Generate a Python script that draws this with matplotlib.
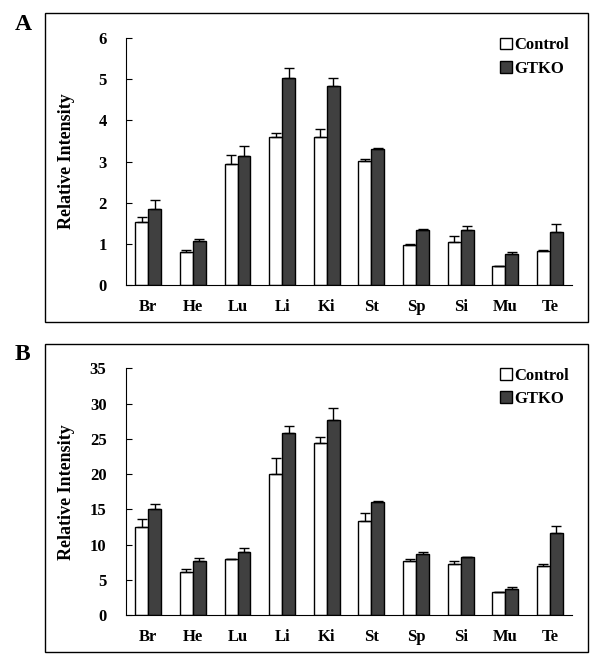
import matplotlib
matplotlib.use("Agg")
import matplotlib.pyplot as plt
import matplotlib.patches as patches
from matplotlib.patches import Patch
import numpy as np

plt.rcParams['font.family'] = ['Liberation Serif', 'DejaVu Serif']
plt.rcParams['font.weight'] = 'bold'

tissues = ['Br', 'He', 'Lu', 'Li', 'Ki', 'St', 'Sp', 'Si', 'Mu', 'Te']

# panel A
a_control = [1.53, 0.80, 2.94, 3.60, 3.60, 3.01, 0.97, 1.04, 0.45, 0.82]
a_control_err = [0.12, 0.05, 0.22, 0.09, 0.20, 0.05, 0.02, 0.14, 0.01, 0.02]
a_gtko = [1.84, 1.07, 3.13, 5.03, 4.83, 3.30, 1.34, 1.34, 0.75, 1.28]
a_gtko_err = [0.22, 0.05, 0.24, 0.24, 0.20, 0.02, 0.01, 0.09, 0.05, 0.20]

# panel B
b_control = [12.5, 6.05, 7.9, 19.96, 24.35, 13.4, 7.6, 7.2, 3.2, 6.9]
b_control_err = [1.1, 0.45, 0.1, 2.3, 0.85, 1.0, 0.3, 0.4, 0.0, 0.4]
b_gtko = [15.1, 7.66, 8.9, 25.8, 27.6, 16.1, 8.6, 8.2, 3.7, 11.6]
b_gtko_err = [0.7, 0.45, 0.55, 1.0, 1.7, 0.05, 0.3, 0.05, 0.25, 1.0]

fig = plt.figure(figsize=(5.91, 6.54), dpi=100)

# outer frames of both panels
for (x0, y0, x1, y1) in [(45, 13, 588, 322), (45, 344, 588, 652)]:
    fig.patches.append(patches.Rectangle(
        (x0 / 591, 1 - y1 / 654), (x1 - x0) / 591, (y1 - y0) / 654,
        transform=fig.transFigure, fill=False, edgecolor='black', linewidth=1))

def draw_panel(ax, ctrl, ctrl_err, gtko, gtko_err, ymax, step, letter):
    x = np.arange(len(tissues))
    w = 0.29
    err_kw = dict(elinewidth=1, capsize=3.5, capthick=1, ecolor='black')
    ax.bar(x - w / 2, ctrl, w, color='white', edgecolor='black', linewidth=1,
           yerr=[np.zeros(len(ctrl)), ctrl_err], error_kw=err_kw)
    ax.bar(x + w / 2, gtko, w, color='#404040', edgecolor='black', linewidth=1,
           yerr=[np.zeros(len(gtko)), gtko_err], error_kw=err_kw)
    ax.set_xlim(-0.5, len(tissues) - 0.5)
    ax.set_ylim(0, ymax)
    ax.set_yticks(np.arange(0, ymax + step / 2, step))
    ax.set_xticks(x)
    ax.set_xticklabels(tissues)
    ax.spines['top'].set_visible(False)
    ax.spines['right'].set_visible(False)
    ax.tick_params(axis='x', length=0, pad=10, labelsize=12)
    ax.tick_params(axis='y', direction='in', length=4, pad=14, labelsize=12)
    for lab in ax.get_xticklabels() + ax.get_yticklabels():
        lab.set_fontweight('bold')
    ax.set_ylabel('Relative Intensity', fontsize=13, fontweight='bold')
    ax.yaxis.set_label_coords(-0.115, 0.5)
    handles = [Patch(facecolor='white', edgecolor='black', label='Control'),
               Patch(facecolor='#404040', edgecolor='black', label='GTKO')]
    ax.legend(handles=handles, loc='upper right', bbox_to_anchor=(0.993, 1.003),
              frameon=False, borderpad=0, borderaxespad=0,
              handlelength=0.7, handleheight=0.7,
              handletextpad=0.15, labelspacing=0.45,
              prop={'weight': 'bold', 'size': 12})
    ax.text(-0.231, 1.056, letter, transform=ax.transAxes, fontsize=17,
            fontweight='bold', ha='center', va='center')

ax_a = fig.add_axes([0.2132, 0.5642, 0.755, 0.3777])
draw_panel(ax_a, a_control, a_control_err, a_gtko, a_gtko_err, 6, 1, 'A')

ax_b = fig.add_axes([0.2132, 0.0596, 0.755, 0.3773])
draw_panel(ax_b, b_control, b_control_err, b_gtko, b_gtko_err, 35, 5, 'B')

fig.savefig('out.png', dpi=100)
